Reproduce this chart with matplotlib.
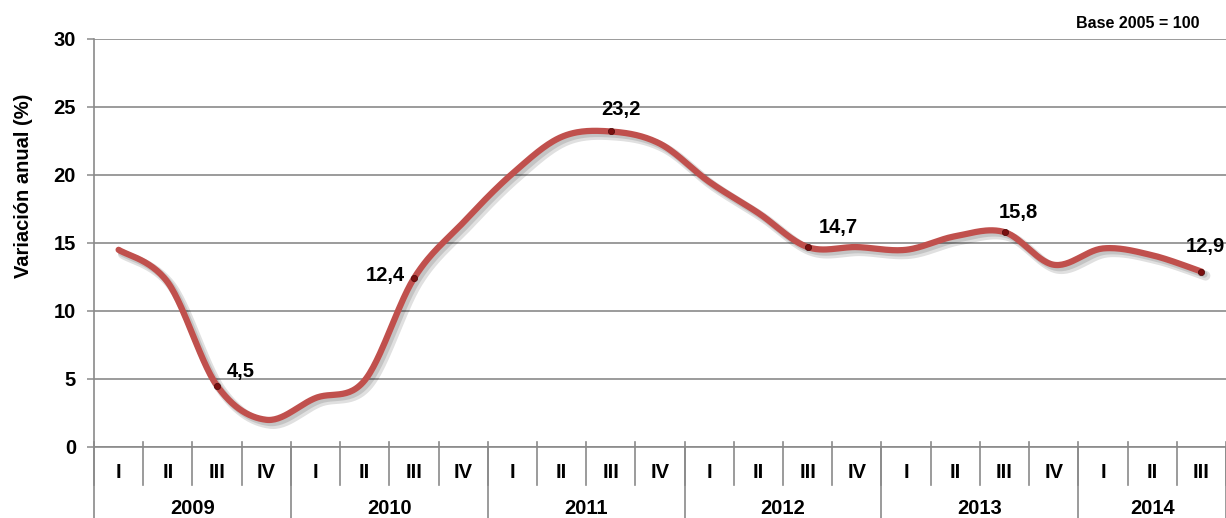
import numpy as np
import matplotlib
matplotlib.use("Agg")
import matplotlib.pyplot as plt
import matplotlib.patheffects as pe
import matplotlib.transforms as mtransforms

plt.rcParams['font.family'] = ['Liberation Sans', 'DejaVu Sans']
plt.rcParams['font.weight'] = 'bold'

# ---- data ----
years = ["2009", "2010", "2011", "2012", "2013", "2014"]
quarters_per_year = [4, 4, 4, 4, 4, 3]
quarter_names = ["I", "II", "III", "IV"]
values = [14.5, 12.1, 4.5, 2.0, 3.6, 4.9, 12.4, 16.5, 20.1, 22.8, 23.2, 22.3,
          19.5, 17.2, 14.7, 14.7, 14.5, 15.5, 15.8, 13.4, 14.6, 14.1, 12.9]
labeled_idx = [2, 6, 10, 14, 18, 22]
label_texts = ["4,5", "12,4", "23,2", "14,7", "15,8", "12,9"]
yticks = [0, 5, 10, 15, 20, 25, 30]

# ---- figure ----
W, H = 1226, 518
fig = plt.figure(figsize=(W / 100, H / 100), dpi=100)
ax = fig.add_axes([94 / W, (H - 447) / H, 1 - 94 / W, (447 - 39) / H])

n = len(values)
x = np.arange(n, dtype=float)
y = np.array(values, dtype=float)

# Excel-like smoothing (Catmull-Rom via cubic Bezier)
def smooth(xp, yp, steps=30):
    P = np.column_stack([xp, yp])
    Pext = np.vstack([P[0], P, P[-1]])
    out = []
    for i in range(len(P) - 1):
        p0, p1, p2, p3 = Pext[i], Pext[i + 1], Pext[i + 2], Pext[i + 3]
        c1 = p1 + (p2 - p0) / 6.0
        c2 = p2 - (p3 - p1) / 6.0
        t = np.linspace(0, 1, steps)[:, None]
        seg = ((1 - t) ** 3) * p1 + 3 * ((1 - t) ** 2) * t * c1 + 3 * (1 - t) * t ** 2 * c2 + t ** 3 * p2
        out.append(seg if i == 0 else seg[1:])
    s = np.vstack(out)
    return s[:, 0], s[:, 1]

sx, sy = smooth(x, y)

grid_c = "#8a8a8a"
ax.set_xlim(-0.5, n - 0.5)
ax.set_ylim(0, 30)
ax.set_yticks(yticks)
ax.set_yticklabels([str(v) for v in yticks], fontsize=14.5, fontweight='bold')
ax.yaxis.grid(True, color=grid_c, linewidth=1.2)
ax.set_axisbelow(True)
ax.tick_params(axis='y', length=5, width=1.1, color=grid_c, pad=8)
ax.tick_params(axis='x', length=0, labelbottom=False)
for s in ['top', 'right', 'bottom']:
    ax.spines[s].set_visible(False)
ax.spines['left'].set_color(grid_c)
ax.spines['left'].set_linewidth(1.2)

ax.plot(sx, sy, color="#C0504D", linewidth=4.5, solid_capstyle='round', zorder=3,
        path_effects=[pe.SimpleLineShadow(offset=(3, -3), shadow_color='black', alpha=0.12, linewidth=7),
                      pe.SimpleLineShadow(offset=(2, -2), shadow_color='black', alpha=0.12, linewidth=5),
                      pe.Normal()])

lx = [x[i] for i in labeled_idx]
ly = [y[i] for i in labeled_idx]
ax.plot(lx, ly, 'o', color="#7a1010", markersize=4.5, zorder=4,
        markeredgecolor="#4a0a0a", markeredgewidth=0.5)

offsets = [(10, 14, 'left'), (-9, 3, 'right'), (10, 22, 'center'),
           (11, 20, 'left'), (14, 20, 'center'), (4, 25, 'center')]
for xi, yi, txt, (dx, dy, ha) in zip(lx, ly, label_texts, offsets):
    ax.annotate(txt, (xi, yi), xytext=(dx, dy), textcoords='offset pixels',
                ha=ha, va='center', fontsize=14.5, fontweight='bold',
                annotation_clip=False, zorder=5)

# ---- multi-level category axis ----
trans = mtransforms.blended_transform_factory(ax.transData, ax.transAxes)
axh = 447 - 39
def ay(px):
    return (447 - px) / axh

ax.plot([-0.5, n - 0.5], [0, 0], transform=trans, color=grid_c, lw=1.2, clip_on=False, zorder=2)
qlabels = []
for yq in quarters_per_year:
    qlabels += quarter_names[:yq]
for i in range(n + 1):
    ax.plot([i - 0.5, i - 0.5], [ay(442), ay(485)], transform=trans, color=grid_c,
            lw=1.2, clip_on=False)
for i, ql in enumerate(qlabels):
    ax.text(i, ay(472), ql, transform=trans, ha='center', va='center',
            fontsize=14.5, fontweight='bold')
start = 0
bounds = [0]
for yr, q in zip(years, quarters_per_year):
    ax.text(start + (q - 1) / 2, ay(508), yr, transform=trans, ha='center', va='center',
            fontsize=14.5, fontweight='bold')
    start += q
    bounds.append(start)
for b in bounds:
    ax.plot([b - 0.5, b - 0.5], [ay(447), ay(520)], transform=trans, color=grid_c,
            lw=1.2, clip_on=False)

fig.text(24 / W, 1 - 186 / H, "Variación anual (%)", rotation=90, ha='center', va='center',
         fontsize=14.5, fontweight='bold')
fig.text(1200 / W, 1 - 23 / H, "Base 2005 = 100", ha='right', va='center',
         fontsize=11.5, fontweight='bold')

fig.savefig("out.png", dpi=100)
